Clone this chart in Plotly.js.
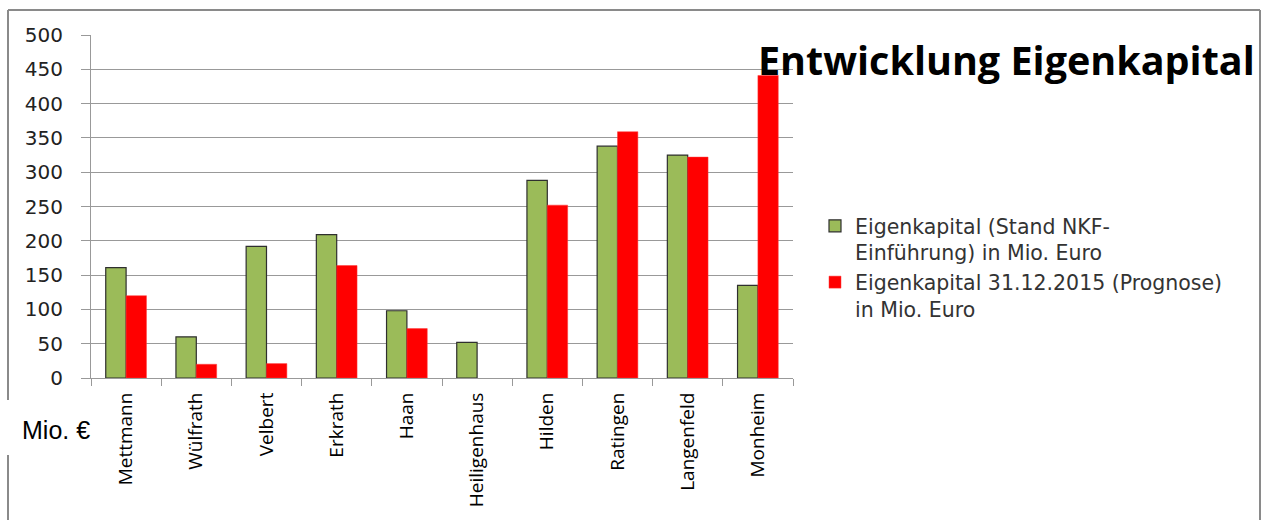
<!DOCTYPE html>
<html>
<head>
<meta charset="utf-8">
<script src="https://cdn.plot.ly/plotly-3.0.1.min.js"></script>
<style>html,body{margin:0;padding:0;background:#fff;}#chart{width:1263px;height:520px;}</style>
</head>
<body>
<div id="chart"></div>
<script>
const categories = ["Mettmann","Wülfrath","Velbert","Erkrath","Haan","Heiligenhaus","Hilden","Ratingen","Langenfeld","Monheim"];
const eigenkapitalNKF = [161, 60, 192, 209, 98, 52, 288, 338, 325, 135];
const eigenkapital2015 = [120, 20, 21, 164, 72, null, 252, 359, 322, 441];
const seriesNames = ["Eigenkapital (Stand NKF-<br>Einführung) in Mio. Euro", "Eigenkapital 31.12.2015 (Prognose)<br>in Mio. Euro"];
const yTicks = [0,50,100,150,200,250,300,350,400,450,500];

const W = 1263, H = 520;
const L = 91, R = 793, T = 35, B = 378;
const px = x => (x - L) / (R - L);
const py = y => (B - y) / (B - T);

const traces = [
  {type:'bar', name: seriesNames[0], x: categories, y: eigenkapitalNKF,
   marker:{color:'#9BBB59', line:{color:'#2f2f2f', width:1.2}}},
  {type:'bar', name: seriesNames[1], x: categories, y: eigenkapital2015,
   marker:{color:'#FF0000', line:{color:'#ff3b3b', width:0.5}}}
];

const borderColor = '#8a8a8a';
const layout = {
  width: W, height: H,
  margin: {l: L, r: W - R, t: T, b: H - B, pad: 0},
  paper_bgcolor: '#fff', plot_bgcolor: '#fff',
  barmode: 'group', bargap: 0.42, bargroupgap: 0,
  showlegend: true,
  legend: {x: px(815), y: py(206), xanchor: 'left', yanchor: 'top', valign: 'top',
           font: {family: 'DejaVu Sans', size: 20.5, color: '#333'},
           tracegroupgap: 30, bgcolor: 'rgba(0,0,0,0)'},
  xaxis: {type: 'category', tickangle: -90, tickson: 'boundaries', ticks: 'outside', ticklen: 7,
          tickcolor: '#999', showline: true, linecolor: '#999', linewidth: 1,
          showgrid: false, ticklabelstandoff: 6,
          tickfont: {family: 'Open Sans', size: 19, color: '#000'}, fixedrange: true},
  yaxis: {range: [0, 500], tickvals: yTicks, ticks: 'outside', ticklen: 9, tickcolor: '#999',
          showline: true, linecolor: '#999', linewidth: 1,
          showgrid: true, gridcolor: '#999', gridwidth: 1, zeroline: false,
          ticklabelstandoff: 14,
          tickfont: {family: 'DejaVu Sans', size: 20, color: '#222'}, fixedrange: true},
  annotations: [
    {text: '<b>Entwicklung Eigenkapital</b>', xref: 'paper', yref: 'paper',
     x: px(1006), y: py(60), xanchor: 'center', yanchor: 'middle', showarrow: false,
     font: {family: 'Open Sans', size: 39.5, color: '#000'}},
    {text: 'Mio. €', xref: 'paper', yref: 'paper', x: px(56), y: py(430),
     xanchor: 'center', yanchor: 'middle', showarrow: false,
     font: {family: 'Liberation Sans', size: 25, color: '#000'}}
  ],
  shapes: [
    {type:'line', xref:'paper', yref:'paper', x0: px(8), x1: px(1260), y0: py(10), y1: py(10), line:{color: borderColor, width: 2}},
    {type:'line', xref:'paper', yref:'paper', x0: px(1260), x1: px(1260), y0: py(10), y1: py(530), line:{color: borderColor, width: 2}},
    {type:'line', xref:'paper', yref:'paper', x0: px(8), x1: px(8), y0: py(10), y1: py(400), line:{color: borderColor, width: 2}},
    {type:'line', xref:'paper', yref:'paper', x0: px(8), x1: px(8), y0: py(455), y1: py(530), line:{color: borderColor, width: 2}}
  ]
};

Plotly.newPlot('chart', traces, layout, {displayModeBar: false, staticPlot: true});
</script>
</body>
</html>
